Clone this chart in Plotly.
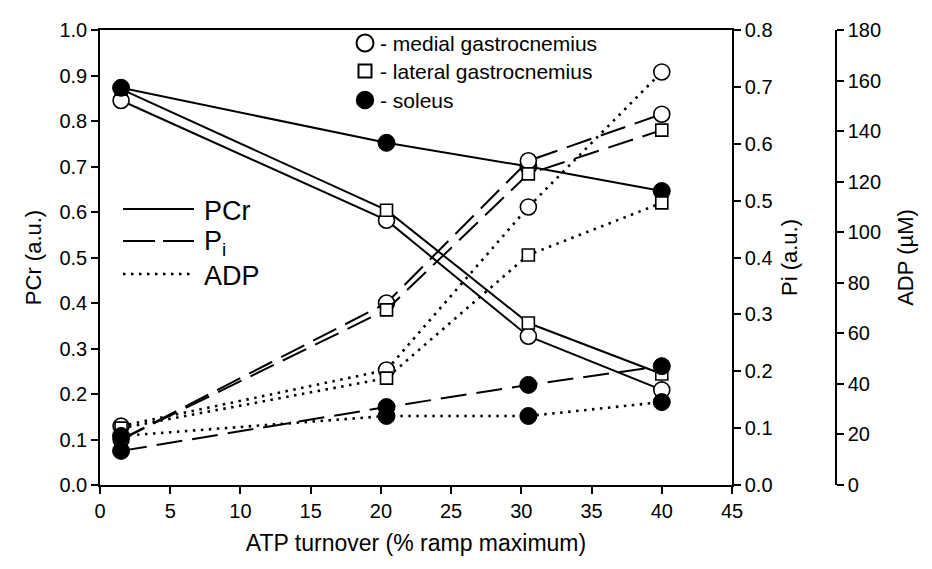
import plotly.graph_objects as go

# ---------------- data ----------------
atp_turnover = [1.5, 20.4, 30.5, 40.0]

pcr_medial = [0.845, 0.582, 0.327, 0.209]
pcr_lateral = [0.870, 0.604, 0.356, 0.244]
pcr_soleus = [0.873, 0.752, 0.700, 0.646]

pi_medial = [0.080, 0.320, 0.570, 0.652]
pi_lateral = [0.080, 0.308, 0.547, 0.624]
pi_soleus = [0.060, 0.137, 0.176, 0.209]

adp_medial = [23.3, 45.5, 110.0, 163.4]
adp_lateral = [22.5, 42.3, 91.0, 111.6]
adp_soleus = [19.4, 27.3, 27.3, 32.8]

x_ticks = [0, 5, 10, 15, 20, 25, 30, 35, 40, 45]
pcr_ticks = [0.0, 0.1, 0.2, 0.3, 0.4, 0.5, 0.6, 0.7, 0.8, 0.9, 1.0]
pi_ticks = [0.0, 0.1, 0.2, 0.3, 0.4, 0.5, 0.6, 0.7, 0.8]
adp_ticks = [0, 20, 40, 60, 80, 100, 120, 140, 160, 180]

muscle_names = ["medial gastrocnemius", "lateral gastrocnemius", "soleus"]
metric_names = ["PCr", "P<sub>i</sub>", "ADP"]

# ---------------- layout constants ----------------
W, H = 932, 569
PL, PR, PT, PB = 92, 724, 22, 477      # plot box in pixels
ADP_AXIS_X = 828
FONT = "Liberation Sans, Arial, sans-serif"

paper_w = ADP_AXIS_X - PL
paper_h = PB - PT


def px(xp):
    return (xp - PL) / paper_w


def py(yp):
    return (PB - yp) / paper_h


DASH = "26px,10px"
DOT = "2.5px,5.5px"

styles = {
    "medial gastrocnemius": dict(symbol="circle", size=16, color="white", lw=1.6),
    "lateral gastrocnemius": dict(symbol="square", size=12, color="white", lw=1.6),
    "soleus": dict(symbol="circle", size=17, color="black", lw=1.0),
}

series = [
    ("PCr", "y", "solid", 2.0, [pcr_medial, pcr_lateral, pcr_soleus]),
    ("Pi", "y2", DASH, 2.0, [pi_medial, pi_lateral, pi_soleus]),
    ("ADP", "y3", DOT, 2.6, [adp_medial, adp_lateral, adp_soleus]),
]

fig = go.Figure()
for muscle_index, muscle in enumerate(muscle_names):
    st = styles[muscle]
    for metric, yax, dash, lw, values in series:
        fig.add_trace(go.Scatter(
            x=atp_turnover, y=values[muscle_index], yaxis=yax,
            mode="lines+markers", name=f"{metric} {muscle}",
            line=dict(color="black", width=lw, dash=dash),
            marker=dict(symbol=st["symbol"], size=st["size"], color=st["color"],
                        line=dict(color="black", width=st["lw"])),
            showlegend=False,
        ))

axis_common = dict(
    showline=True, linecolor="black", linewidth=1.5,
    ticks="outside", ticklen=7, tickwidth=1.5, tickcolor="black",
    showgrid=False, zeroline=False, automargin=False,
    tickfont=dict(family=FONT, size=20, color="black"),
)

fig.update_layout(
    width=W, height=H,
    margin=dict(l=PL, r=W - ADP_AXIS_X, t=PT, b=H - PB),
    plot_bgcolor="white", paper_bgcolor="white",
    font=dict(family=FONT, color="black"),
    xaxis=dict(
        domain=[0, (PR - PL) / paper_w], range=[0, 45], tickvals=x_ticks,
        mirror=True,
        title=dict(text="ATP turnover (% ramp maximum)",
                   font=dict(family=FONT, size=23), standoff=14),
        **axis_common,
    ),
    yaxis=dict(
        range=[0, 1.0], tickvals=pcr_ticks, tickformat=".1f",
        title=dict(text="PCr (a.u.)", font=dict(family=FONT, size=22), standoff=12),
        **axis_common,
    ),
    yaxis2=dict(
        range=[0, 0.8], tickvals=pi_ticks, tickformat=".1f",
        overlaying="y", side="right", anchor="x",
        title=dict(text="Pi (a.u.)", font=dict(family=FONT, size=22), standoff=10),
        **axis_common,
    ),
    yaxis3=dict(
        range=[0, 180], tickvals=adp_ticks,
        overlaying="y", side="right", anchor="free", position=1.0,
        title=dict(text="ADP (µM)", font=dict(family=FONT, size=22), standoff=16),
        **axis_common,
    ),
)

# ---------------- custom legend: line styles ----------------
line_legend_y = [201, 233, 266]
legend_dashes = ["solid", "32px,8px", "2.5px,5.5px"]
legend_widths = [2.0, 2.0, 2.6]
for name, yv, dash, lw in zip(metric_names, line_legend_y, legend_dashes, legend_widths):
    fig.add_shape(type="line", xref="paper", yref="paper",
                  x0=px(115), x1=px(186), y0=py(yv), y1=py(yv),
                  line=dict(color="black", width=lw, dash=dash))
    fig.add_annotation(xref="paper", yref="paper", x=px(194), y=py(yv + 2),
                       text=name, showarrow=False, xanchor="left", yanchor="middle",
                       font=dict(family=FONT, size=27, color="black"))

# ---------------- custom legend: markers ----------------
marker_legend_y = [35, 63, 92]
mx = 357
for muscle, yv in zip(muscle_names, marker_legend_y):
    st = styles[muscle]
    half = (st["size"] + (1 if muscle != "soleus" else 0)) / 2
    fig.add_shape(type="circle" if st["symbol"] == "circle" else "rect",
                  xref="paper", yref="paper",
                  x0=px(mx - half), x1=px(mx + half),
                  y0=py(yv + half), y1=py(yv - half),
                  fillcolor=st["color"], line=dict(color="black", width=st["lw"] + 0.4))
    fig.add_annotation(xref="paper", yref="paper", x=px(370), y=py(yv),
                       text="- " + muscle, showarrow=False, xanchor="left",
                       yanchor="middle",
                       font=dict(family=FONT, size=21, color="black"))

fig.write_html("out.html")
